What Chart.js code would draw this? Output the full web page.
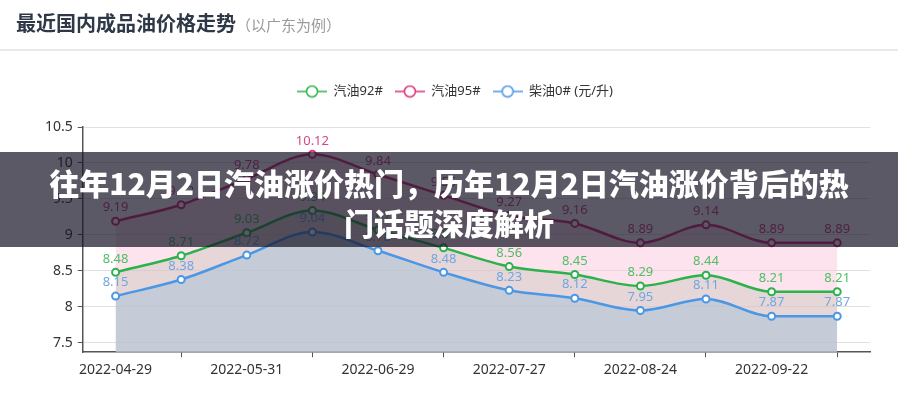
<!DOCTYPE html>
<html lang="zh-CN">
<head>
<meta charset="UTF-8">
<title>最近国内成品油价格走势</title>
<script src="https://cdn.jsdelivr.net/npm/chart.js@4.4.0/dist/chart.umd.min.js"></script>
<style>
  * { margin: 0; padding: 0; box-sizing: border-box; }
  body { width: 898px; height: 400px; overflow: hidden; background: #fff; font-family: "Noto Sans CJK SC", "Noto Sans", sans-serif; }
  .wrap { position: relative; width: 898px; height: 400px; }
  .head { position: absolute; left: 0; top: 0; width: 898px; height: 51px; border-bottom: 2px solid #e9e9e9; padding-left: 16px; line-height: 46px; }
  .head h1 { display: inline; font-size: 20px; font-weight: 700; color: #2e3847; }
  .head span { font-size: 15px; color: #9a9a9a; }
  .chart-box { position: absolute; left: 0; top: 0; width: 898px; height: 400px; }
  .banner { position: absolute; left: 0; top: 152px; width: 898px; height: 95px; background: rgba(20, 18, 35, 0.7); padding-top: 10px; }
  .banner p { width: 810px; margin: 0 auto; color: #fff; font-size: 30px; font-weight: 900; line-height: 40px; text-align: center; }
</style>
</head>
<body>
<div class="wrap">
  <div class="chart-box"><canvas id="oilChart"></canvas></div>
  <div class="head"><h1>最近国内成品油价格走势</h1><span>（以广东为例）</span></div>
  <div class="banner"><p>往年12月2日汽油涨价热门，历年12月2日汽油涨价背后的热门话题深度解析</p></div>
</div>

<script>
  const dates = ['2022-04-29', '2022-05-17', '2022-05-31', '2022-06-15', '2022-06-29', '2022-07-13',
                 '2022-07-27', '2022-08-10', '2022-08-24', '2022-09-07', '2022-09-22', '2022-10-11'];
  const gas92 = [8.48, 8.71, 9.03, 9.34, 9.07, 8.82, 8.56, 8.45, 8.29, 8.44, 8.21, 8.21];
  const gas95 = [9.19, 9.42, 9.78, 10.12, 9.84, 9.55, 9.27, 9.16, 8.89, 9.14, 8.89, 8.89];
  const diesel0 = [8.15, 8.38, 8.72, 9.04, 8.78, 8.48, 8.23, 8.12, 7.95, 8.11, 7.87, 7.87];
  const seriesNames = ['汽油92#', '汽油95#', '柴油0# (元/升)'];
  const yTicks = [7.5, 8, 8.5, 9, 9.5, 10, 10.5];

  const lineColors = ['#2bb24a', '#d9327f', '#4a97e6'];
  const labelColors = ['#50be64', '#d6458a', '#6ea7e3'];

  Chart.defaults.font.family = '"Noto Sans", "Noto Sans CJK SC", sans-serif';

  // legend symbol: short line with a hollow circle
  function legendIcon(color) {
    const c = document.createElement('canvas');
    c.width = 30;
    c.height = 14;
    const g = c.getContext('2d');
    g.strokeStyle = color;
    g.lineWidth = 1.5;
    g.beginPath(); g.moveTo(0, 7); g.lineTo(30, 7); g.stroke();
    g.beginPath(); g.arc(15, 7, 5.5, 0, Math.PI * 2);
    g.fillStyle = '#fff'; g.fill(); g.stroke();
    return c;
  }
  const legendIcons = lineColors.map(legendIcon);

  // extra room between legend and plot
  const legendGap = {
    id: 'legendGap',
    beforeInit(chart) {
      const fit = chart.legend.fit;
      chart.legend.fit = function () { fit.call(this); this.height += 19; };
    }
  };

  // value above every point
  const valueLabels = {
    id: 'valueLabels',
    afterDatasetsDraw(chart) {
      const ctx = chart.ctx;
      ctx.save();
      ctx.font = '13px "Noto Sans", sans-serif';
      ctx.textAlign = 'center';
      ctx.textBaseline = 'bottom';
      chart.data.datasets.forEach((ds, i) => {
        ctx.fillStyle = labelColors[i];
        chart.getDatasetMeta(i).data.forEach((pt, j) => {
          ctx.fillText(ds.data[j].toFixed(2), pt.x, pt.y - 7);
        });
      });
      ctx.restore();
    }
  };

  new Chart(document.getElementById('oilChart'), {
    type: 'line',
    data: {
      labels: dates,
      datasets: [
        {
          label: seriesNames[0],
          data: gas92,
          borderColor: lineColors[0],
          backgroundColor: 'rgba(179, 184, 165, 0.3)',
          pointBorderColor: lineColors[0],
          pointBackgroundColor: '#fff',
          fill: 'start',
          order: 2
        },
        {
          label: seriesNames[1],
          data: gas95,
          borderColor: lineColors[1],
          backgroundColor: 'rgba(250, 200, 222, 0.5)',
          pointBorderColor: lineColors[1],
          pointBackgroundColor: '#fff',
          fill: 'start',
          order: 3
        },
        {
          label: seriesNames[2],
          data: diesel0,
          borderColor: lineColors[2],
          backgroundColor: 'rgba(168, 194, 218, 0.5)',
          pointBorderColor: lineColors[2],
          pointBackgroundColor: '#fff',
          fill: 'start',
          order: 1
        }
      ]
    },
    options: {
      responsive: true,
      maintainAspectRatio: false,
      animation: false,
      layout: { padding: { top: 73, left: 40, right: 28, bottom: 18 } },
      elements: {
        line: { borderWidth: 2.5, cubicInterpolationMode: 'monotone' },
        point: { radius: 3.5, borderWidth: 2 }
      },
      scales: {
        x: {
          offset: true,
          grid: {
            offset: false,
            drawOnChartArea: false,
            tickLength: 5,
            color: c => (c.index % 2 ? '#555' : 'rgba(0,0,0,0)')
          },
          border: { color: '#555', width: 1.5 },
          ticks: {
            autoSkip: false,
            maxRotation: 0,
            padding: 4,
            color: '#333',
            font: { size: 14 },
            callback: (v, i) => (i % 2 ? '' : dates[i])
          }
        },
        y: {
          min: 7.37,
          max: 10.5,
          afterBuildTicks: axis => { axis.ticks = yTicks.map(v => ({ value: v })); },
          grid: { color: '#e0e0e0', tickLength: 5, tickColor: '#555' },
          border: { color: '#555', width: 1.5 },
          ticks: { padding: 5, color: '#333', font: { size: 14 }, callback: v => String(v) }
        }
      },
      plugins: {
        legend: {
          labels: {
            usePointStyle: true,
            pointStyleWidth: 30,
            boxHeight: 13,
            padding: 12,
            color: '#333',
            font: { size: 13 },
            generateLabels: chart => chart.data.datasets.map((ds, i) => ({
              text: ds.label,
              pointStyle: legendIcons[i],
              datasetIndex: i,
              hidden: false,
              fontColor: '#333',
              lineWidth: 0,
              strokeStyle: 'transparent',
              fillStyle: 'transparent'
            }))
          }
        },
        tooltip: { enabled: false }
      }
    },
    plugins: [legendGap, valueLabels]
  });
</script>
</body>
</html>
